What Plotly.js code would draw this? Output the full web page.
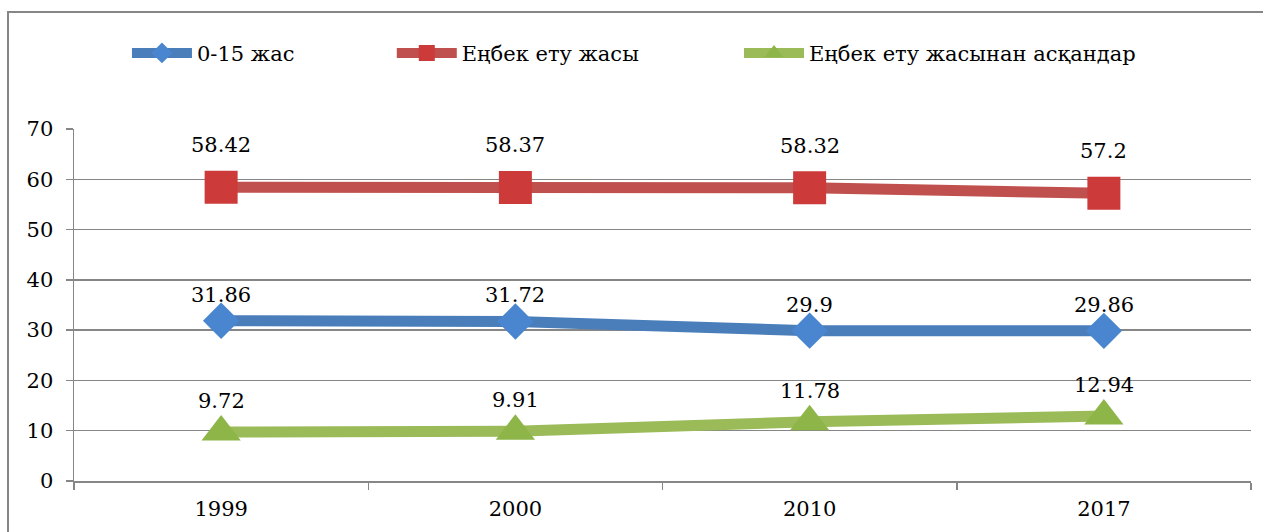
<!DOCTYPE html>
<html>
<head>
<meta charset="utf-8">
<script src="https://cdn.plot.ly/plotly-3.0.1.min.js"></script>
<style>
html,body{margin:0;padding:0;background:#fff;}
#chart{width:1263px;height:532px;}
</style>
</head>
<body>
<div id="chart"></div>
<script>
var categories = ['1999', '2000', '2010', '2017'];
var seriesNames = ['0-15 жас', 'Еңбек ету жасы', 'Еңбек ету жасынан асқандар'];
var youth = [31.86, 31.72, 29.9, 29.86];
var working = [58.42, 58.37, 58.32, 57.2];
var elderly = [9.72, 9.91, 11.78, 12.94];
var yTicks = [0, 10, 20, 30, 40, 50, 60, 70];

var FONT = 'DejaVu Serif';
var styles = [
  {values: youth, line: '#4a7ebb', marker: '#4a86d0', symbol: 'diamond', size: 28, shift: 26, legend: 'legend', lx: 0.045},
  {values: working, line: '#c0504d', marker: '#cc3a3a', symbol: 'square', size: 33, shift: 42, legend: 'legend2', lx: 0.27},
  {values: elderly, line: '#9bbb59', marker: '#8db548', symbol: 'triangle-up', size: 34, shift: 31, legend: 'legend3', lx: 0.565}
];

var traces = styles.map(function (s, i) {
  return {
    type: 'scatter', mode: 'lines+markers',
    x: categories, y: s.values, name: seriesNames[i],
    line: {color: s.line, width: 11},
    marker: {color: s.marker, symbol: s.symbol, size: s.size, line: {width: 0}},
    legend: s.legend, hoverinfo: 'skip'
  };
});

var annotations = [];
styles.forEach(function (s) {
  s.values.forEach(function (v, j) {
    annotations.push({
      x: j, y: v, xref: 'x', yref: 'y', text: String(v),
      showarrow: false, yshift: s.shift, xanchor: 'center', yanchor: 'middle',
      font: {family: FONT, size: 21, color: '#000000'}
    });
  });
});

function legendCfg(x) {
  return {
    orientation: 'h', x: x, y: 1.215, xanchor: 'left', yanchor: 'middle',
    font: {family: FONT, size: 21, color: '#000'}, itemwidth: 60,
    bgcolor: 'rgba(0,0,0,0)', borderwidth: 0
  };
}

var layout = {
  width: 1263, height: 532,
  margin: {l: 74, r: 12, t: 129, b: 51},
  paper_bgcolor: '#fff', plot_bgcolor: '#fff',
  font: {family: FONT, size: 21, color: '#000'},
  showlegend: true,
  legend: legendCfg(styles[0].lx),
  legend2: legendCfg(styles[1].lx),
  legend3: legendCfg(styles[2].lx),
  xaxis: {
    type: 'category', range: [-0.5, 3.5], tickson: 'boundaries',
    ticks: 'outside', ticklen: 7, tickwidth: 1.5, tickcolor: '#868686',
    showline: true, linecolor: '#868686', linewidth: 1.5,
    showgrid: false, zeroline: false, fixedrange: true, ticklabelstandoff: 8,
    tickfont: {family: FONT, size: 21, color: '#000'}
  },
  yaxis: {
    range: [0, 70], tickvals: yTicks, ticktext: yTicks.map(String),
    ticks: 'outside', ticklen: 7, tickwidth: 1.5, tickcolor: '#868686',
    showline: true, linecolor: '#868686', linewidth: 1.5,
    showgrid: true, gridcolor: '#868686', gridwidth: 1.5,
    zeroline: false, fixedrange: true, ticklabelstandoff: 8,
    tickfont: {family: FONT, size: 21, color: '#000'}
  },
  annotations: annotations,
  shapes: [{
    type: 'rect', xref: 'paper', yref: 'paper',
    x0: -66 / 1177, x1: 1.1, y0: -0.5, y1: (481 - 12) / 352,
    line: {color: '#868686', width: 2}, fillcolor: 'rgba(0,0,0,0)', layer: 'below'
  }]
};

Plotly.newPlot('chart', traces, layout, {displayModeBar: false, staticPlot: true});
</script>
</body>
</html>
